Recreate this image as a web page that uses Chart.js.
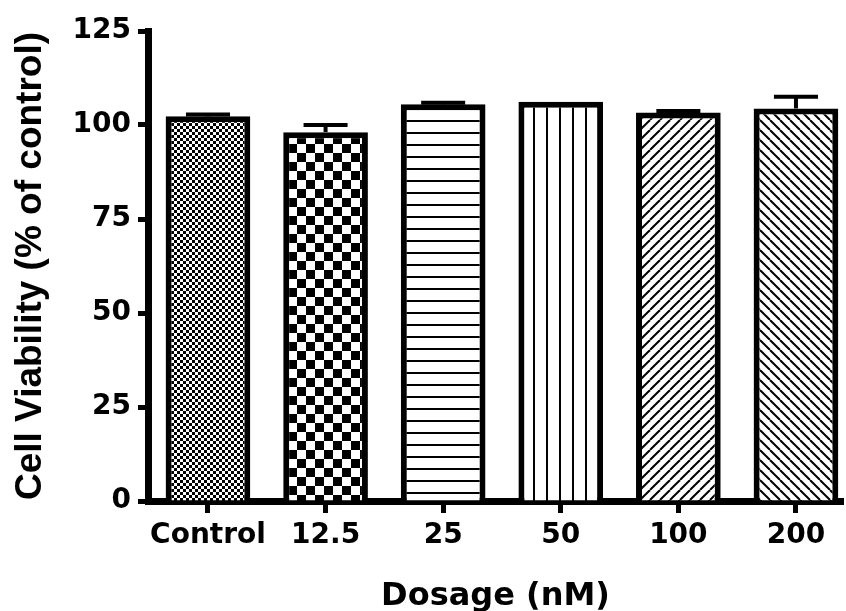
<!DOCTYPE html>
<html>
<head>
<meta charset="utf-8">
<script src="https://cdn.jsdelivr.net/npm/chart.js@4"></script>
<style>
  html, body { margin: 0; padding: 0; background: #fff; overflow: hidden; }
  canvas { display: block; }
</style>
</head>
<body>
<canvas id="chart" width="846" height="611"></canvas>
<script>
// ---- data ----
const categories = ['Control', '12.5', '25', '50', '100', '200'];
const viability = [102.3, 98.1, 105.5, 106.2, 103.3, 104.4];   // % of control (bar tops)
const sem = [0.5, 1.9, 0.4, 0, 0.4, 3.1];                       // upper error
const yTicks = [0, 25, 50, 75, 100, 125];
const xTitle = 'Dosage (nM)';
const yTitle = 'Cell Viability (% of control)';

const canvas = document.getElementById('chart');
const mainCtx = canvas.getContext('2d');

function makePattern(w, h, draw) {
  const c = document.createElement('canvas');
  c.width = w; c.height = h;
  const g = c.getContext('2d');
  g.fillStyle = '#fff'; g.fillRect(0, 0, w, h);
  g.fillStyle = '#000'; g.strokeStyle = '#000';
  draw(g, w, h);
  return mainCtx.createPattern(c, 'repeat');
}

const patterns = [
  makePattern(6, 6, g => { g.fillRect(0, 0, 3, 3); g.fillRect(3, 3, 3, 3); }),
  makePattern(18, 18, g => { g.fillRect(0, 0, 9, 9); g.fillRect(9, 9, 9, 9); }),
  makePattern(4, 12, g => { g.fillRect(0, 0, 4, 2); }),
  makePattern(13, 4, g => { g.fillRect(0, 0, 2, 4); }),
  makePattern(10, 10, (g, s) => {
    g.lineWidth = 2;
    for (let k = -1; k <= 1; k++) { g.beginPath(); g.moveTo(k * s, s); g.lineTo(k * s + s, 0); g.stroke(); }
  }),
  makePattern(10, 10, (g, s) => {
    g.lineWidth = 2;
    for (let k = -1; k <= 1; k++) { g.beginPath(); g.moveTo(k * s, 0); g.lineTo(k * s + s, s); g.stroke(); }
  })
];

const errorBars = {
  id: 'errorBars',
  afterDatasetsDraw(chart) {
    const ctx = chart.ctx;
    const y = chart.scales.y;
    const meta = chart.getDatasetMeta(0);
    ctx.save();
    ctx.strokeStyle = '#000';
    ctx.lineCap = 'butt';
    meta.data.forEach((bar, i) => {
      const e = sem[i];
      if (!e) return;
      const top = y.getPixelForValue(viability[i] + e);
      const half = bar.width * 0.26;
      ctx.lineWidth = 4;
      ctx.beginPath();
      ctx.moveTo(bar.x, bar.y);
      ctx.lineTo(bar.x, top);
      ctx.stroke();
      ctx.beginPath();
      ctx.moveTo(bar.x - half, top);
      ctx.lineTo(bar.x + half, top);
      ctx.stroke();
    });
    ctx.restore();
  }
};

new Chart(canvas, {
  type: 'bar',
  data: {
    datasets: [{
      data: viability.map((v, i) => ({ x: i, y: v })),
      backgroundColor: patterns,
      borderColor: '#000',
      borderWidth: 6,
      borderSkipped: 'start',
      categoryPercentage: 1,
      barPercentage: 0.72
    }]
  },
  options: {
    responsive: false,
    animation: false,
    devicePixelRatio: 1,
    layout: { padding: { top: 31, right: 3, left: 0, bottom: 0 } },
    plugins: { legend: { display: false }, tooltip: { enabled: false } },
    scales: {
      x: {
        type: 'linear',
        offset: false,
        min: -0.51,
        max: 5.40,
        z: 1,
        afterBuildTicks: s => { s.ticks = categories.map((c, i) => ({ value: i })); },
        afterFit: s => { s.height = 110; },
        border: { display: true, color: '#000', width: 7 },
        grid: { display: true, offset: false, drawOnChartArea: false, drawTicks: true, tickLength: 12, tickWidth: 5, tickColor: '#000', color: '#000' },
        ticks: {
          autoSkip: false, maxRotation: 0, padding: 6, color: '#000',
          font: { family: 'DejaVu Sans', weight: 'bold', size: 28 },
          callback: v => categories[v]
        },
        title: {
          display: true, text: xTitle, color: '#000',
          font: { family: 'DejaVu Sans', weight: 'bold', size: 32, lineHeight: 1 },
          padding: { top: 0, bottom: -2 }
        }
      },
      y: {
        min: 0,
        max: 125,
        afterBuildTicks: s => { s.ticks = yTicks.map(v => ({ value: v })); },
        afterFit: s => { s.width = 148; },
        border: { display: true, color: '#000', width: 7 },
        grid: { display: true, drawOnChartArea: false, drawTicks: true, tickLength: 10, tickWidth: 5, tickColor: '#000', color: '#000' },
        ticks: {
          padding: 7, color: '#000',
          font: { family: 'DejaVu Sans', weight: 'bold', size: 28 }
        },
        title: {
          display: true, text: yTitle, color: '#000',
          font: { family: 'Liberation Sans', weight: 'bold', size: 37, lineHeight: 1.2 },
          padding: { top: 9, bottom: 0 }
        }
      }
    }
  },
  plugins: [errorBars]
});
</script>
</body>
</html>
